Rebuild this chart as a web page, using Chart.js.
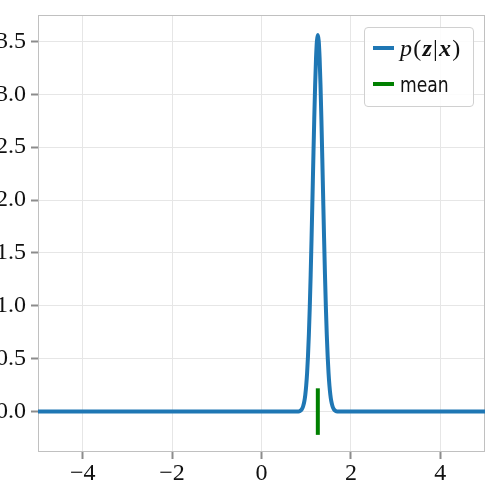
<!DOCTYPE html>
<html><head><meta charset="utf-8">
<script src="https://cdn.jsdelivr.net/npm/chart.js@4/dist/chart.umd.min.js"></script>
<style>
html,body{margin:0;padding:0;background:#fff;}
#wrap{position:relative;width:500px;height:500px;}
#legend{position:absolute;left:364px;top:27px;width:108px;height:78px;border:1px solid #d0d0d0;border-radius:4px;background:rgba(255,255,255,0.85);}
.row{position:absolute;left:8px;height:26px;display:flex;align-items:center;white-space:nowrap;}
.sw{width:21px;height:4px;margin-right:6px;flex:none;}
.math{font-family:"Liberation Serif",serif;font-size:24px;letter-spacing:1.2px;color:#111;}
.txt{font-family:"DejaVu Sans",sans-serif;font-size:22px;color:#111;display:inline-block;transform:scaleX(0.78);transform-origin:left center;}
</style></head>
<body><div id="wrap"><canvas id="c" width="500" height="500"></canvas>
<div id="legend">
<div class="row" style="top:7px"><div class="sw" style="background:#1f77b4"></div><span class="math"><i>p</i>(<b><i>z</i></b>|<b><i>x</i></b>)</span></div>
<div class="row" style="top:43px"><div class="sw" style="background:#008000"></div><span class="txt">mean</span></div>
</div></div>
<script>
// posterior curve samples
const curveX = [-5, 0.76, 0.81, 0.86, 0.90, 0.93, 0.96, 0.98, 1.00, 1.02, 1.04, 1.06, 1.08, 1.10, 1.12, 1.14, 1.16, 1.18, 1.20, 1.22, 1.24, 1.26,
  1.28, 1.30, 1.32, 1.34, 1.36, 1.38, 1.40, 1.42, 1.44, 1.46, 1.48, 1.50, 1.52, 1.54, 1.56, 1.59, 1.62, 1.66, 1.71, 1.76, 5];
const curveY = [0, 0, 0.001, 0.006, 0.021, 0.048, 0.101, 0.160, 0.245, 0.364, 0.524, 0.731, 0.987, 1.292, 1.639, 2.013, 2.396, 2.763, 3.087, 3.341, 3.504, 3.56,
  3.504, 3.341, 3.087, 2.763, 2.396, 2.013, 1.639, 1.292, 0.987, 0.731, 0.524, 0.364, 0.245, 0.160, 0.101, 0.048, 0.021, 0.006, 0.001, 0, 0];
const meanX = [1.26, 1.26];
const meanY = [-0.22, 0.22];
const xTicks = [-4, -2, 0, 2, 4];
const yTicks = [0, 0.5, 1.0, 1.5, 2.0, 2.5, 3.0, 3.5];

const frame = {
  id: 'frame',
  beforeDatasetsDraw(chart) {
    const a = chart.chartArea, ctx = chart.ctx;
    ctx.save(); ctx.strokeStyle = '#c0c0c0'; ctx.lineWidth = 1;
    ctx.strokeRect(Math.round(a.left) + 0.5, Math.round(a.top) + 0.5, Math.round(a.right - a.left) - 1, Math.round(a.bottom - a.top) - 1);
    ctx.restore();
  }
};
const tickFont = {family: '"Liberation Serif", serif', size: 24};
new Chart(document.getElementById('c'), {
  type: 'line',
  data: {datasets: [
    {data: curveX.map((x, i) => ({x, y: curveY[i]})), borderColor: '#1f77b4', borderWidth: 4, pointRadius: 0, cubicInterpolationMode: 'monotone', borderJoinStyle: 'round', borderCapStyle: 'butt'},
    {data: meanX.map((x, i) => ({x, y: meanY[i]})), borderColor: '#008000', borderWidth: 4, pointRadius: 0, tension: 0, cubicInterpolationMode: 'monotone'}
  ]},
  options: {
    responsive: false, animation: false, devicePixelRatio: 1,
    layout: {padding: {left: 0, top: 15, right: 15, bottom: 0}},
    plugins: {legend: {display: false}, tooltip: {enabled: false}},
    scales: {
      x: {type: 'linear', min: -5, max: 5,
        afterBuildTicks: s => { s.ticks = xTicks.map(v => ({value: v})); },
        afterFit: s => { s.height = 48; s.paddingLeft = 0; s.paddingRight = 0; },
        grid: {color: '#e6e6e6', tickColor: '#8c8c8c', tickLength: 7, tickWidth: 2},
        border: {display: false},
        ticks: {font: tickFont, color: '#111', padding: 0, maxRotation: 0, callback: v => String(v).replace('-', '\u2212')}},
      y: {type: 'linear', min: -0.382, max: 3.749,
        afterBuildTicks: s => { s.ticks = yTicks.map(v => ({value: v})); },
        afterFit: s => { s.width = 38; s.paddingTop = 0; s.paddingBottom = 0; },
        grid: {color: '#e6e6e6', tickColor: '#8c8c8c', tickLength: 7, tickWidth: 2},
        border: {display: false},
        ticks: {font: tickFont, color: '#111', padding: 5, callback: v => Number(v).toFixed(1)}}
    }
  },
  plugins: [frame]
});
</script></body></html>
